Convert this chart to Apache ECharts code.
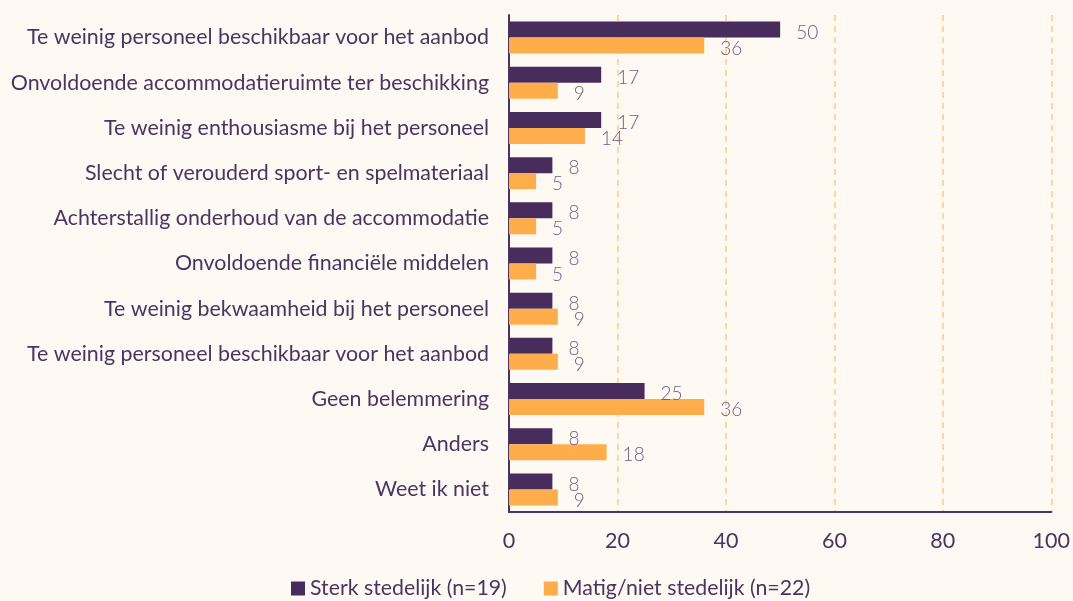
<!DOCTYPE html>
<html>
<head>
<meta charset="utf-8">
<script src="https://cdn.jsdelivr.net/npm/echarts@6/dist/echarts.min.js"></script>
<style>
  html, body { margin: 0; padding: 0; background: #fff9f3; }
  #chart { width: 1073px; height: 601px; }
</style>
</head>
<body>
<div id="chart"></div>
<script>
// categories, top to bottom
const categories = [
  'Te weinig personeel beschikbaar voor het aanbod',
  'Onvoldoende accommodatieruimte ter beschikking',
  'Te weinig enthousiasme bij het personeel',
  'Slecht of verouderd sport- en spelmateriaal',
  'Achterstallig onderhoud van de accommodatie',
  'Onvoldoende financiële middelen',
  'Te weinig bekwaamheid bij het personeel',
  'Te weinig personeel beschikbaar voor het aanbod',
  'Geen belemmering',
  'Anders',
  'Weet ik niet'
]
const sterk = [50, 17, 17, 8, 8, 8, 8, 8, 25, 8, 8]
const matig = [36, 9, 14, 5, 5, 5, 9, 9, 36, 18, 9]
const xTicks = [0, 20, 40, 60, 80, 100]

const textColor = '#4a3561'
const labelColor = '#6e5f7c'

const chart = echarts.init(document.getElementById('chart'))
const option = {
  backgroundColor: '#fff9f3',
  textStyle: { fontFamily: 'Lato' },
  animation: false,
  grid: { left: 509, right: 20, top: 15, bottom: 89, containLabel: false },
  legend: {
    top: 573,
    left: 286,
    itemWidth: 14,
    itemHeight: 14,
    itemGap: 37,
    icon: 'rect',
    textStyle: { color: textColor, fontSize: 21.3, fontFamily: 'Lato' },
    data: ['Sterk stedelijk (n=19)', 'Matig/niet stedelijk (n=22)']
  },
  xAxis: {
    type: 'value',
    min: xTicks[0],
    max: xTicks[xTicks.length - 1],
    interval: 20,
    axisLine: { show: true, lineStyle: { color: '#4a3561', width: 2 } },
    axisTick: { show: false },
    axisLabel: { color: textColor, fontSize: 21.5, margin: 18 },
    splitLine: { show: true, lineStyle: { color: '#ffc98a', type: [6, 5], width: 1.5 } }
  },
  yAxis: {
    type: 'category',
    inverse: true,
    data: categories,
    axisLine: { show: true, lineStyle: { color: '#4a3561', width: 2 } },
    axisTick: { show: false },
    axisLabel: { color: textColor, fontSize: 21.4, margin: 20 }
  },
  series: [
    {
      name: 'Sterk stedelijk (n=19)',
      type: 'bar',
      data: sterk,
      barWidth: 16,
      barGap: '0%',
      itemStyle: { color: '#472c5c' },
      label: { show: true, position: 'right', distance: 16, color: labelColor, fontSize: 19, fontWeight: 300, offset: [0, 3] }
    },
    {
      name: 'Matig/niet stedelijk (n=22)',
      type: 'bar',
      data: matig,
      barWidth: 16,
      barGap: '0%',
      itemStyle: { color: '#ffad4a' },
      label: { show: true, position: 'right', distance: 16, color: labelColor, fontSize: 19, fontWeight: 300, offset: [0, 3] }
    }
  ]
}
chart.setOption(option)
</script>
</body>
</html>
